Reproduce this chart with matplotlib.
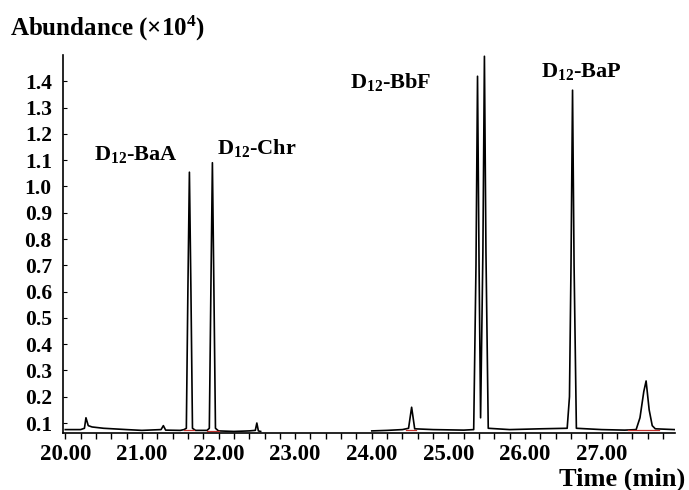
import matplotlib
matplotlib.use("Agg")
from matplotlib import pyplot as plt
from matplotlib.ticker import MultipleLocator, FixedLocator

plt.rcParams['font.family'] = ['Liberation Serif', 'DejaVu Serif']
plt.rcParams['font.weight'] = 'bold'
plt.rcParams['mathtext.fontset'] = 'custom'
plt.rcParams['mathtext.rm'] = 'Liberation Serif:bold'
plt.rcParams['mathtext.it'] = 'Liberation Serif:bold'
plt.rcParams['mathtext.bf'] = 'Liberation Serif:bold'

# chromatogram trace, first part (20.0 - 22.55 min)
time_a = [20.00, 20.20, 20.25, 20.27, 20.30, 20.35, 20.50, 20.80, 21.00, 21.25, 21.28, 21.31,
          21.50, 21.55, 21.58, 21.60, 21.62, 21.64, 21.66, 21.70, 21.85, 21.88, 21.90, 21.92,
          21.94, 21.96, 22.00, 22.20, 22.40, 22.48, 22.50, 22.52, 22.55]
abund_a = [0.075, 0.075, 0.080, 0.120, 0.090, 0.085, 0.080, 0.075, 0.072, 0.075, 0.090, 0.073,
           0.072, 0.075, 0.080, 0.600, 1.054, 0.600, 0.080, 0.072, 0.072, 0.080, 0.600, 1.090,
           0.600, 0.080, 0.070, 0.068, 0.070, 0.072, 0.100, 0.070, 0.068]

# chromatogram trace, second part (24.0 - 27.95 min)
time_b = [24.00, 24.20, 24.40, 24.48, 24.52, 24.56, 24.80, 25.20, 25.33, 25.36, 25.38, 25.40,
          25.42, 25.45, 25.47, 25.49, 25.52, 25.80, 26.20, 26.55, 26.58, 26.60, 26.62, 26.64,
          26.67, 27.00, 27.30, 27.45, 27.50, 27.55, 27.58, 27.62, 27.66, 27.70, 27.95]
abund_b = [0.070, 0.072, 0.075, 0.080, 0.160, 0.078, 0.075, 0.073, 0.075, 0.700, 1.419, 0.700,
           0.120, 0.750, 1.495, 0.750, 0.080, 0.075, 0.078, 0.080, 0.200, 0.700, 1.366, 0.700,
           0.080, 0.075, 0.073, 0.075, 0.120, 0.220, 0.260, 0.150, 0.090, 0.078, 0.075]

# integration baselines (red)
base_start = [21.55, 21.85, 24.45, 27.35]
base_end = [21.68, 22.00, 24.58, 27.75]
base_level = [0.072, 0.070, 0.075, 0.075]

labels = [r"D$_{12}$-BaA", r"D$_{12}$-Chr", r"D$_{12}$-BbF", r"D$_{12}$-BaP"]
label_x = [20.38, 21.98, 23.71, 26.21]
label_y = [1.12, 1.146, 1.398, 1.436]

x_ticks = [20, 21, 22, 23, 24, 25, 26, 27]
x_ticklabels = ["20.00", "21.00", "22.00", "23.00", "24.00", "25.00", "26.00", "27.00"]
y_ticks = [0.1, 0.2, 0.3, 0.4, 0.5, 0.6, 0.7, 0.8, 0.9, 1.0, 1.1, 1.2, 1.3, 1.4]

fig = plt.figure(figsize=(6.89, 4.90), dpi=100)
ax = fig.add_axes([0.0914, 0.1163, 0.8886, 0.7715])

ax.plot(time_a, abund_a, color='black', linewidth=1.2)
ax.plot(time_b, abund_b, color='black', linewidth=1.2)
for s, e, lv in zip(base_start, base_end, base_level):
    ax.plot([s, e], [lv, lv], color='#c0302c', linewidth=0.9)

for txt, x, y in zip(labels, label_x, label_y):
    ax.text(x, y, txt, fontsize=16, fontweight='bold', ha='left', va='center')

ax.set_xlim(19.97, 27.96)
ax.set_ylim(0.062, 1.5)

ax.spines['top'].set_visible(False)
ax.spines['right'].set_visible(False)
ax.spines['left'].set_linewidth(1.2)
ax.spines['bottom'].set_linewidth(1.2)

ax.xaxis.set_major_locator(FixedLocator(x_ticks))
ax.set_xticklabels(x_ticklabels)
ax.xaxis.set_minor_locator(MultipleLocator(0.2))
ax.tick_params(axis='x', which='both', direction='out', length=4, width=1.0, labelsize=16.5, pad=4)

ax.yaxis.set_major_locator(FixedLocator(y_ticks))
ax.set_yticklabels([f"{v:.1f}" for v in y_ticks])
ax.tick_params(axis='y', which='both', direction='in', length=3, width=0.8, labelsize=15.5, pad=8)

fig.text(0.0145, 0.943, r"Abundance (×10$^{4}$)", fontsize=18, fontweight='bold', ha='left', va='center')
fig.text(0.995, 0.022, "Time (min)", fontsize=19, fontweight='bold', ha='right', va='center')

fig.savefig("out.png", dpi=100)
